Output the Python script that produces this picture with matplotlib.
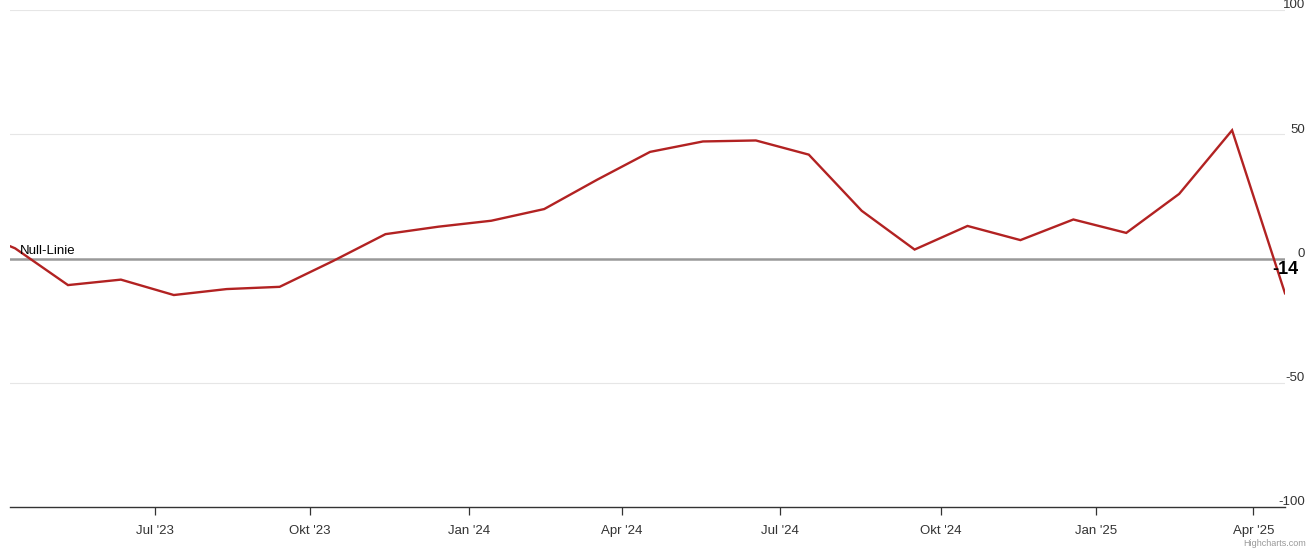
import numpy as np
import pandas as pd
import matplotlib
matplotlib.use("Agg")
import matplotlib.pyplot as plt
from matplotlib.transforms import blended_transform_factory

plt.rcParams['font.family'] = ['Liberation Sans', 'DejaVu Sans']

# Data (monthly observation dates and values)
dates = ["2023-03-21", "2023-04-18", "2023-05-16", "2023-06-13", "2023-07-11",
         "2023-08-15", "2023-09-19", "2023-10-10", "2023-11-14", "2023-12-12",
         "2024-01-16", "2024-02-20", "2024-03-19", "2024-04-16", "2024-05-14",
         "2024-06-18", "2024-07-16", "2024-08-13", "2024-09-17", "2024-10-15",
         "2024-11-12", "2024-12-17", "2025-01-21", "2025-02-18", "2025-03-18",
         "2025-04-22"]
values = [13.0, 4.1, -10.7, -8.5, -14.7, -12.3, -11.4, -1.1, 9.8, 12.8,
          15.2, 19.9, 31.7, 42.9, 47.1, 47.5, 41.8, 19.2, 3.6, 13.1,
          7.4, 15.7, 10.3, 26.0, 51.6, -14.0]
tick_dates = ["2023-07-01", "2023-10-01", "2024-01-01", "2024-04-01",
              "2024-07-01", "2024-10-01", "2025-01-01", "2025-04-01"]
tick_labels = ["Jul '23", "Okt '23", "Jan '24", "Apr '24",
               "Jul '24", "Okt '24", "Jan '25", "Apr '25"]
y_ticks = [100, 50, 0, -50, -100]
last_label = "-14"
zero_label = "Null-Linie"

# Ordinal axis: points equally spaced, first visible point index 0
d = pd.to_datetime(dates)
idx = np.arange(len(values)) - 1  # first (March) point lies off-screen left
d_num = d.map(pd.Timestamp.toordinal).to_numpy(dtype=float)
t_num = pd.to_datetime(tick_dates).map(pd.Timestamp.toordinal).to_numpy(dtype=float)
tick_pos = np.interp(t_num, d_num, idx)

W, H = 1316, 551
fig = plt.figure(figsize=(W / 100, H / 100), dpi=100)
ax = fig.add_axes([10 / W, 1 - 507 / H, 1275 / W, 497 / H])

ax.set_xlim(-0.096, idx[-1])
ax.set_ylim(-100, 100)

# grid lines
for v in [100, 50, -50]:
    ax.axhline(v, color='#e6e6e6', lw=0.8, zorder=1)
ax.axhline(0, color='#999999', lw=1.8, zorder=2)

ax.plot(idx, values, color='#b22222', lw=1.7, zorder=3, solid_joinstyle='miter')

for s in ['top', 'right', 'left']:
    ax.spines[s].set_visible(False)
ax.spines['bottom'].set_color('#333333')
ax.spines['bottom'].set_linewidth(1.0)

ax.set_yticks([])
ax.set_xticks(tick_pos)
ax.set_xticklabels(tick_labels, fontsize=9.5, color='#333333')
ax.tick_params(axis='x', length=6, width=0.9, color='#333333', pad=7)

# y labels on right, above gridlines
tr = blended_transform_factory(ax.transAxes, ax.transData)
xr = (1305 - 10) / 1275
for v in y_ticks:
    ax.text(xr, v - 0.6, str(v), transform=tr, ha='right', va='bottom',
            fontsize=9.5, color='#333333', clip_on=False)

ax.text(10 / 1275, 0.5, zero_label, transform=tr, ha='left', va='bottom',
        fontsize=9.5, color='#000000')

ax.annotate(last_label, xy=(idx[-1], values[-1]), xytext=(9.4, 17),
            textcoords='offset points', ha='right', va='center',
            fontsize=13, fontweight='bold', color='#000000',
            annotation_clip=False, zorder=5)

fig.text(1306 / W, 1 - 543 / H, "Highcharts.com", ha='right', va='center',
         fontsize=6.5, color='#999999')

fig.savefig("out.png", dpi=100)
